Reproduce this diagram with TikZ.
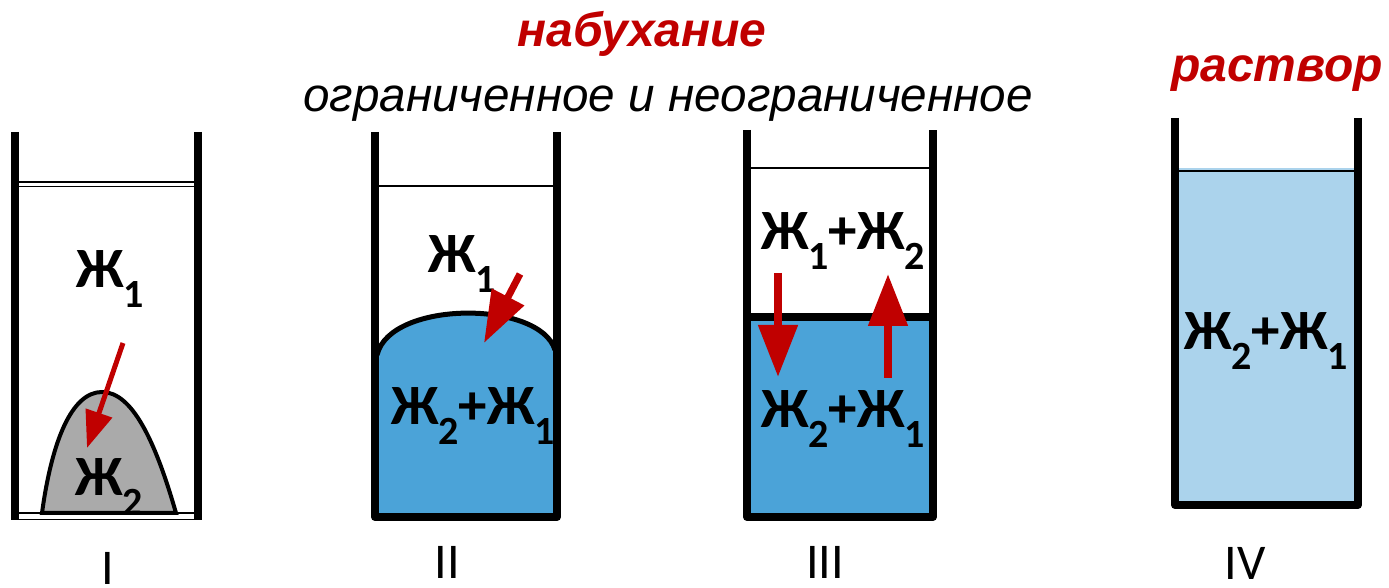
\documentclass[tikz,border=0pt]{standalone}
\usepackage{fontspec}
\setmainfont{Carlito}
\newfontfamily\arialfont{Liberation Sans}
\usetikzlibrary{arrows.meta}
\definecolor{swellred}{HTML}{C00000}
\definecolor{gelblue}{HTML}{4BA3D8}
\definecolor{solblue}{HTML}{ABD3EC}
\definecolor{solidgray}{HTML}{AAAAAA}
\newcommand{\Zh}[1]{Ж\raisebox{-10pt}{\fontsize{20}{20}\selectfont #1}}

\begin{document}
\begin{tikzpicture}[x=0.5pt,y=-0.5pt,
	wall/.style={line width=4pt,line join=round},
	level/.style={line width=0.75pt},
	liquid/.style={inner sep=0pt,anchor=base,font=\fontsize{28.5}{30}\selectfont\bfseries},
	numlabel/.style={inner sep=0pt,anchor=base,text depth=0pt,font=\fontsize{25}{26}\selectfont},
	title/.style={inner sep=0pt,anchor=base,font=\arialfont\fontsize{24}{26}\selectfont\bfseries\itshape,text=swellred},
	redarrow/.style={swellred,line width=#1}]
	\useasboundingbox (0,0) rectangle (1389,588);
	% titles
	\node (swell) at (642,47) [title] {набухание};
	\node (kinds) at (668,112) [inner sep=0pt,anchor=base,font=\arialfont\fontsize{23.8}{26}\selectfont\itshape] {ограниченное и неограниченное};
	\node (sol) at (1277,82) [title] {раствор};
	% I
	\draw[level,double,double distance=1.5pt] (15,184.5) -- (198,184.5);
	\draw[level,double,double distance=2.5pt] (15,516.5) -- (198,516.5);
	\filldraw[fill=solidgray,line width=2pt] (42,513) .. controls (52,440) and (72,392) .. (102,392)
		.. controls (132,392) and (155,440) .. (176,513) -- cycle;
	\node (a1) at (110,288) [liquid] {\Zh{1}};
	\node (a2) at (109,495) [liquid] {\Zh{2}};
	\coordinate (a-from) at (123,343);
	\coordinate (a-to) at (87,448);
	\draw[redarrow=2.5pt,-{Triangle[length=18.5pt,width=13.5pt]}] (a-from) -- (a-to);
	\draw[wall] (15,132) -- (15,520);
	\draw[wall] (198,132) -- (198,520);
	% II
	\draw[level] (375,186) -- (557,186);
	\fill[gelblue] (377,355) .. controls (390,300) and (540,300) .. (555,350) -- (555,517) -- (377,517) -- cycle;
	\draw[line width=2.5pt] (377,355) .. controls (390,300) and (540,300) .. (555,350);
	\node (b1) at (462,273) [liquid] {\Zh{1}};
	\node (b2) at (473,425) [liquid] {\Zh{2}+\Zh{1}};
	\coordinate (b-from) at (520,274);
	\coordinate (b-to) at (484,343);
	\draw[redarrow=3.5pt,-{Triangle[length=26pt,width=17.5pt]}] (b-from) -- (b-to);
	\draw[wall] (375,132) -- (375,517) -- (557,517) -- (557,132);
	% III
	\draw[level] (747,168) -- (933,168);
	\fill[gelblue] (747,317) rectangle (933,517);
	\draw[line width=4pt] (747,317) -- (933,317);
	\node (c1) at (843,250) [liquid] {\Zh{1}+\Zh{2}};
	\node (c2) at (843,428) [liquid] {\Zh{2}+\Zh{1}};
	\coordinate (c-top) at (778,273);
	\coordinate (c-bot) at (778,377);
	\coordinate (d-bot) at (888,378);
	\coordinate (d-top) at (888,274);
	\draw[redarrow=4pt,-{Triangle[length=26pt,width=19pt]}] (c-top) -- (c-bot);
	\draw[redarrow=4pt,-{Triangle[length=26pt,width=19pt]}] (d-bot) -- (d-top);
	\draw[wall] (747,130) -- (747,517) -- (933,517) -- (933,130);
	% IV
	\fill[solblue] (1175,168) rectangle (1358,505);
	\draw[level] (1175,171) -- (1358,171);
	\node (d1) at (1266,350) [liquid] {\Zh{2}+\Zh{1}};
	\draw[wall] (1175,118) -- (1175,505) -- (1358,505) -- (1358,118);
	% numbers
	\foreach \n/\x/\y in {I/108/585, II/447/579, III/825/579, IV/1245/580}
		\node (num\n) at (\x,\y) [numlabel] {\n};
\end{tikzpicture}
\end{document}
